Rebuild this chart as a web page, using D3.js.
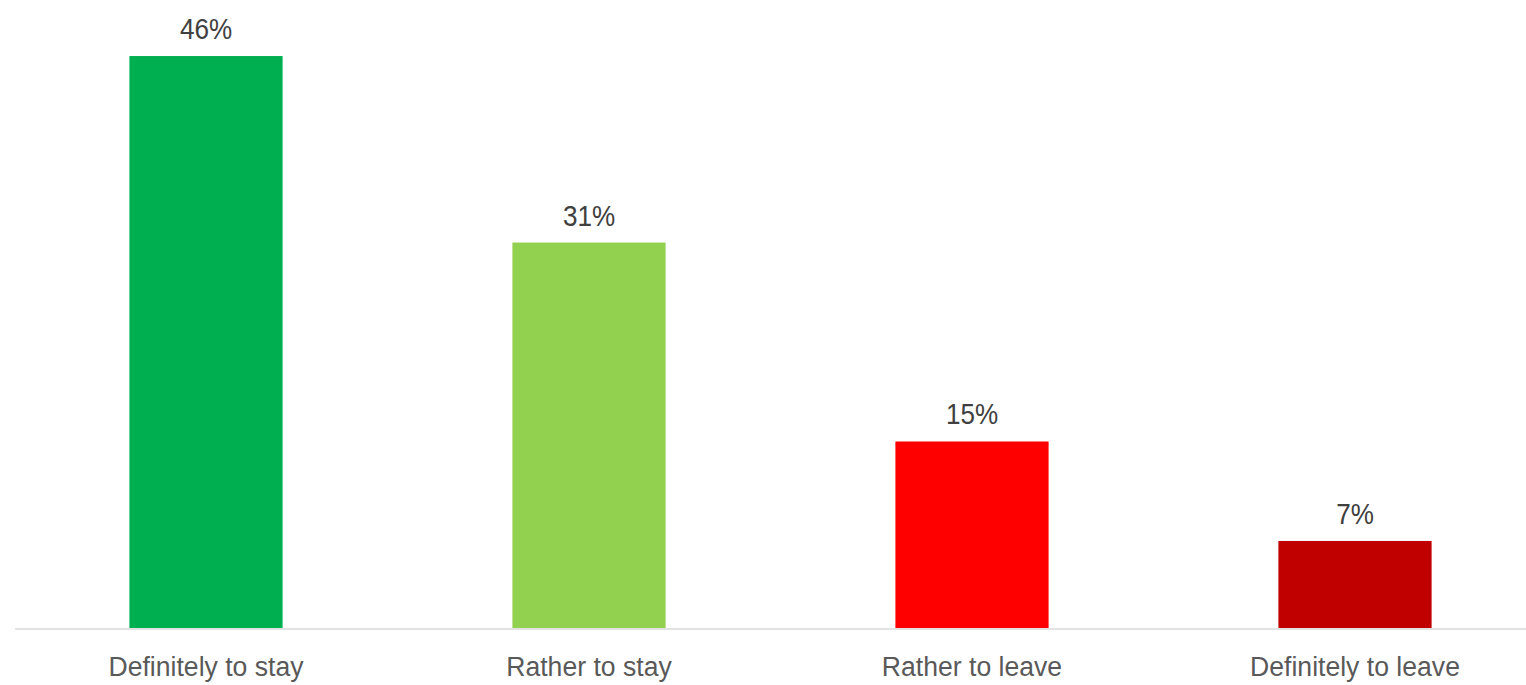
<!DOCTYPE html>
<html>
<head>
<meta charset="utf-8">
<script src="https://cdn.jsdelivr.net/npm/d3@7"></script>
<style>
  html, body { margin: 0; padding: 0; background: #fff; }
  svg { display: block; }
  text { font-family: "Liberation Sans", Arial, sans-serif; }
</style>
</head>
<body>
<script>
const categories = ["Definitely to stay", "Rather to stay", "Rather to leave", "Definitely to leave"];
const values = [46, 31, 15, 7];
const valueLabels = ["46%", "31%", "15%", "7%"];
const colors = ["#00B050", "#92D050", "#FF0000", "#C00000"];

const W = 1526, H = 685;
const svg = d3.select("body").append("svg").attr("width", W).attr("height", H);

const x = d3.scaleBand().domain(categories).range([14.5, 1546.5]).paddingInner(0.6).paddingOuter(0.3);
const y = d3.scaleLinear().domain([0, 50]).range([628, 6.3]);

svg.selectAll("rect.bar").data(categories).join("rect")
  .attr("class", "bar")
  .attr("x", d => x(d))
  .attr("width", x.bandwidth())
  .attr("y", (d, i) => y(values[i]))
  .attr("height", (d, i) => y(0) - y(values[i]))
  .attr("fill", (d, i) => colors[i]);

// baseline axis
const axis = d3.axisBottom(x).tickSize(0).tickPadding(0);
const g = svg.append("g").attr("transform", `translate(0,${y(0) + 1})`).call(axis);
g.select(".domain").attr("stroke", "#d9d9d9").attr("stroke-width", 1.5).attr("d", `M15,0H${W}`);
g.selectAll(".tick text")
  .attr("y", 47)
  .attr("dy", 0)
  .attr("transform", "scale(0.95,1)")
  .attr("fill", "#595959")
  .style("font-size", "28px")
  .style("font-family", '"Liberation Sans", Arial, sans-serif');

svg.selectAll("text.val").data(categories).join("text")
  .attr("class", "val")
  .attr("transform", (d, i) => `translate(${x(d) + x.bandwidth() / 2},${y(values[i]) - 17}) scale(0.9,1)`)
  .attr("text-anchor", "middle")
  .attr("fill", "#404040")
  .style("font-size", "29px")
  .text((d, i) => valueLabels[i]);
</script>
</body>
</html>
